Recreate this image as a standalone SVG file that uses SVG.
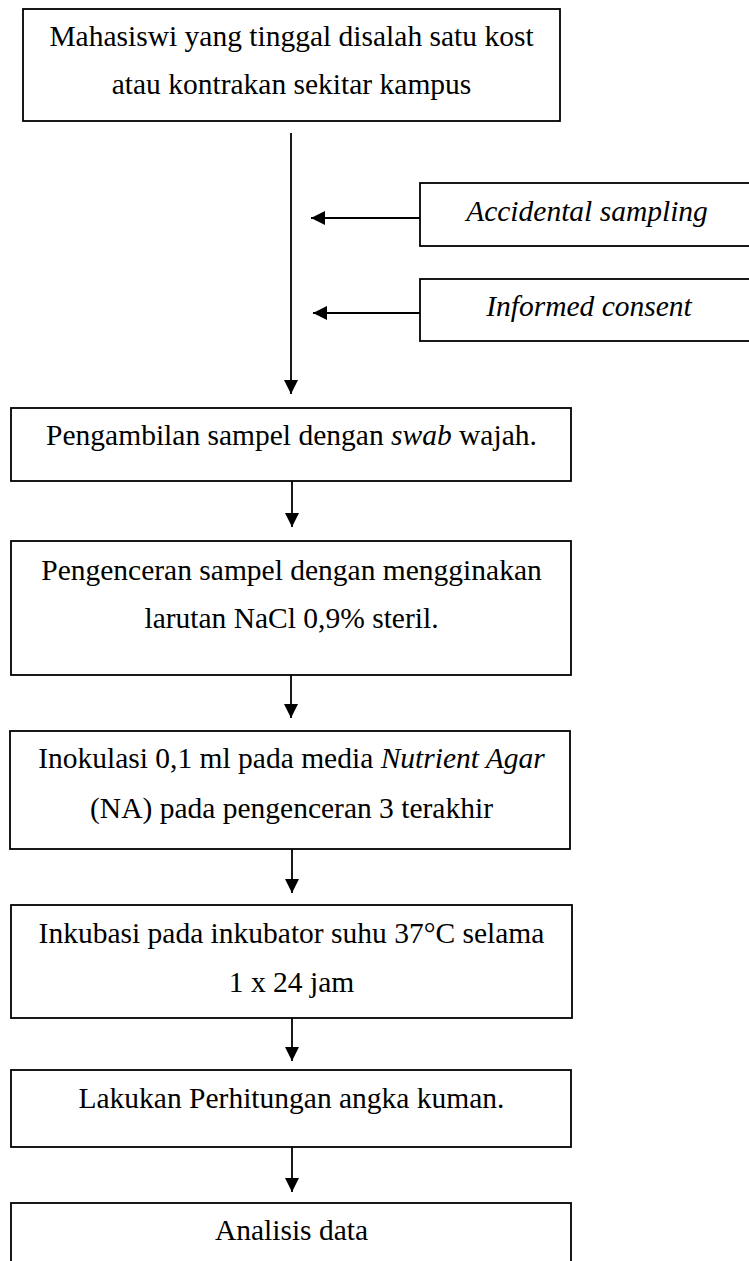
<svg xmlns="http://www.w3.org/2000/svg" width="749" height="1261" viewBox="0 0 749 1261">
<defs>
<style>
.box{fill:#fff;stroke:#000;stroke-width:1.8}
.t{font-family:"Liberation Serif","Times New Roman",serif;font-size:29.5px;fill:#000;text-anchor:middle}
.i{font-style:italic}
.ln{stroke:#000;stroke-width:1.8;fill:none}
</style>
<marker id="ah" markerUnits="userSpaceOnUse" markerWidth="16" markerHeight="16" refX="14" refY="7" orient="auto">
<path d="M0,0 L14,7 L0,14 Z" fill="#000"/>
</marker>
</defs>
<rect width="749" height="1261" fill="#fff"/>
<g id="n1"><rect class="box" x="23" y="9" width="537" height="112"/>
<text class="t" x="291.5" y="46">Mahasiswi yang tinggal disalah satu kost</text>
<text class="t" x="291.5" y="94">atau kontrakan sekitar kampus</text></g>
<g id="n_acc"><rect class="box" x="420" y="183" width="340" height="63"/>
<text class="t i" x="587" y="221">Accidental sampling</text></g>
<g id="n_inf"><rect class="box" x="420" y="279" width="340" height="62"/>
<text class="t i" x="589" y="316">Informed consent</text></g>
<g id="n2"><rect class="box" x="11" y="408" width="560" height="73"/>
<text class="t" x="291.5" y="445">Pengambilan sampel dengan <tspan class="i">swab</tspan> wajah.</text></g>
<g id="n3"><rect class="box" x="11" y="541" width="560" height="134"/>
<text class="t" x="291.5" y="580">Pengenceran sampel dengan mengginakan</text>
<text class="t" x="291.5" y="628">larutan NaCl 0,9% steril.</text></g>
<g id="n4"><rect class="box" x="10" y="731" width="560" height="118"/>
<text class="t" x="291.5" y="768">Inokulasi 0,1 ml pada media <tspan class="i">Nutrient Agar</tspan></text>
<text class="t" x="291.5" y="818">(NA) pada pengenceran 3 terakhir</text></g>
<g id="n5"><rect class="box" x="11" y="905" width="561" height="113"/>
<text class="t" x="291.5" y="943">Inkubasi pada inkubator suhu 37°C selama</text>
<text class="t" x="291.5" y="992">1 x 24 jam</text></g>
<g id="n6"><rect class="box" x="11" y="1070" width="560" height="77"/>
<text class="t" x="291.5" y="1108">Lakukan Perhitungan angka kuman.</text></g>
<g id="n7"><rect class="box" x="11" y="1203" width="560" height="80"/>
<text class="t" x="291.5" y="1240">Analisis data</text></g>
<g id="connectors">
<line class="ln" x1="291" y1="133" x2="291" y2="394" marker-end="url(#ah)"/>
<line class="ln" x1="420" y1="218" x2="311" y2="218" marker-end="url(#ah)"/>
<line class="ln" x1="420" y1="313" x2="313" y2="313" marker-end="url(#ah)"/>
<line class="ln" x1="292" y1="481" x2="292" y2="527" marker-end="url(#ah)"/>
<line class="ln" x1="291" y1="675" x2="291" y2="718" marker-end="url(#ah)"/>
<line class="ln" x1="292" y1="849" x2="292" y2="893" marker-end="url(#ah)"/>
<line class="ln" x1="292" y1="1018" x2="292" y2="1061" marker-end="url(#ah)"/>
<line class="ln" x1="292" y1="1147" x2="292" y2="1192" marker-end="url(#ah)"/>
</g>
</svg>
